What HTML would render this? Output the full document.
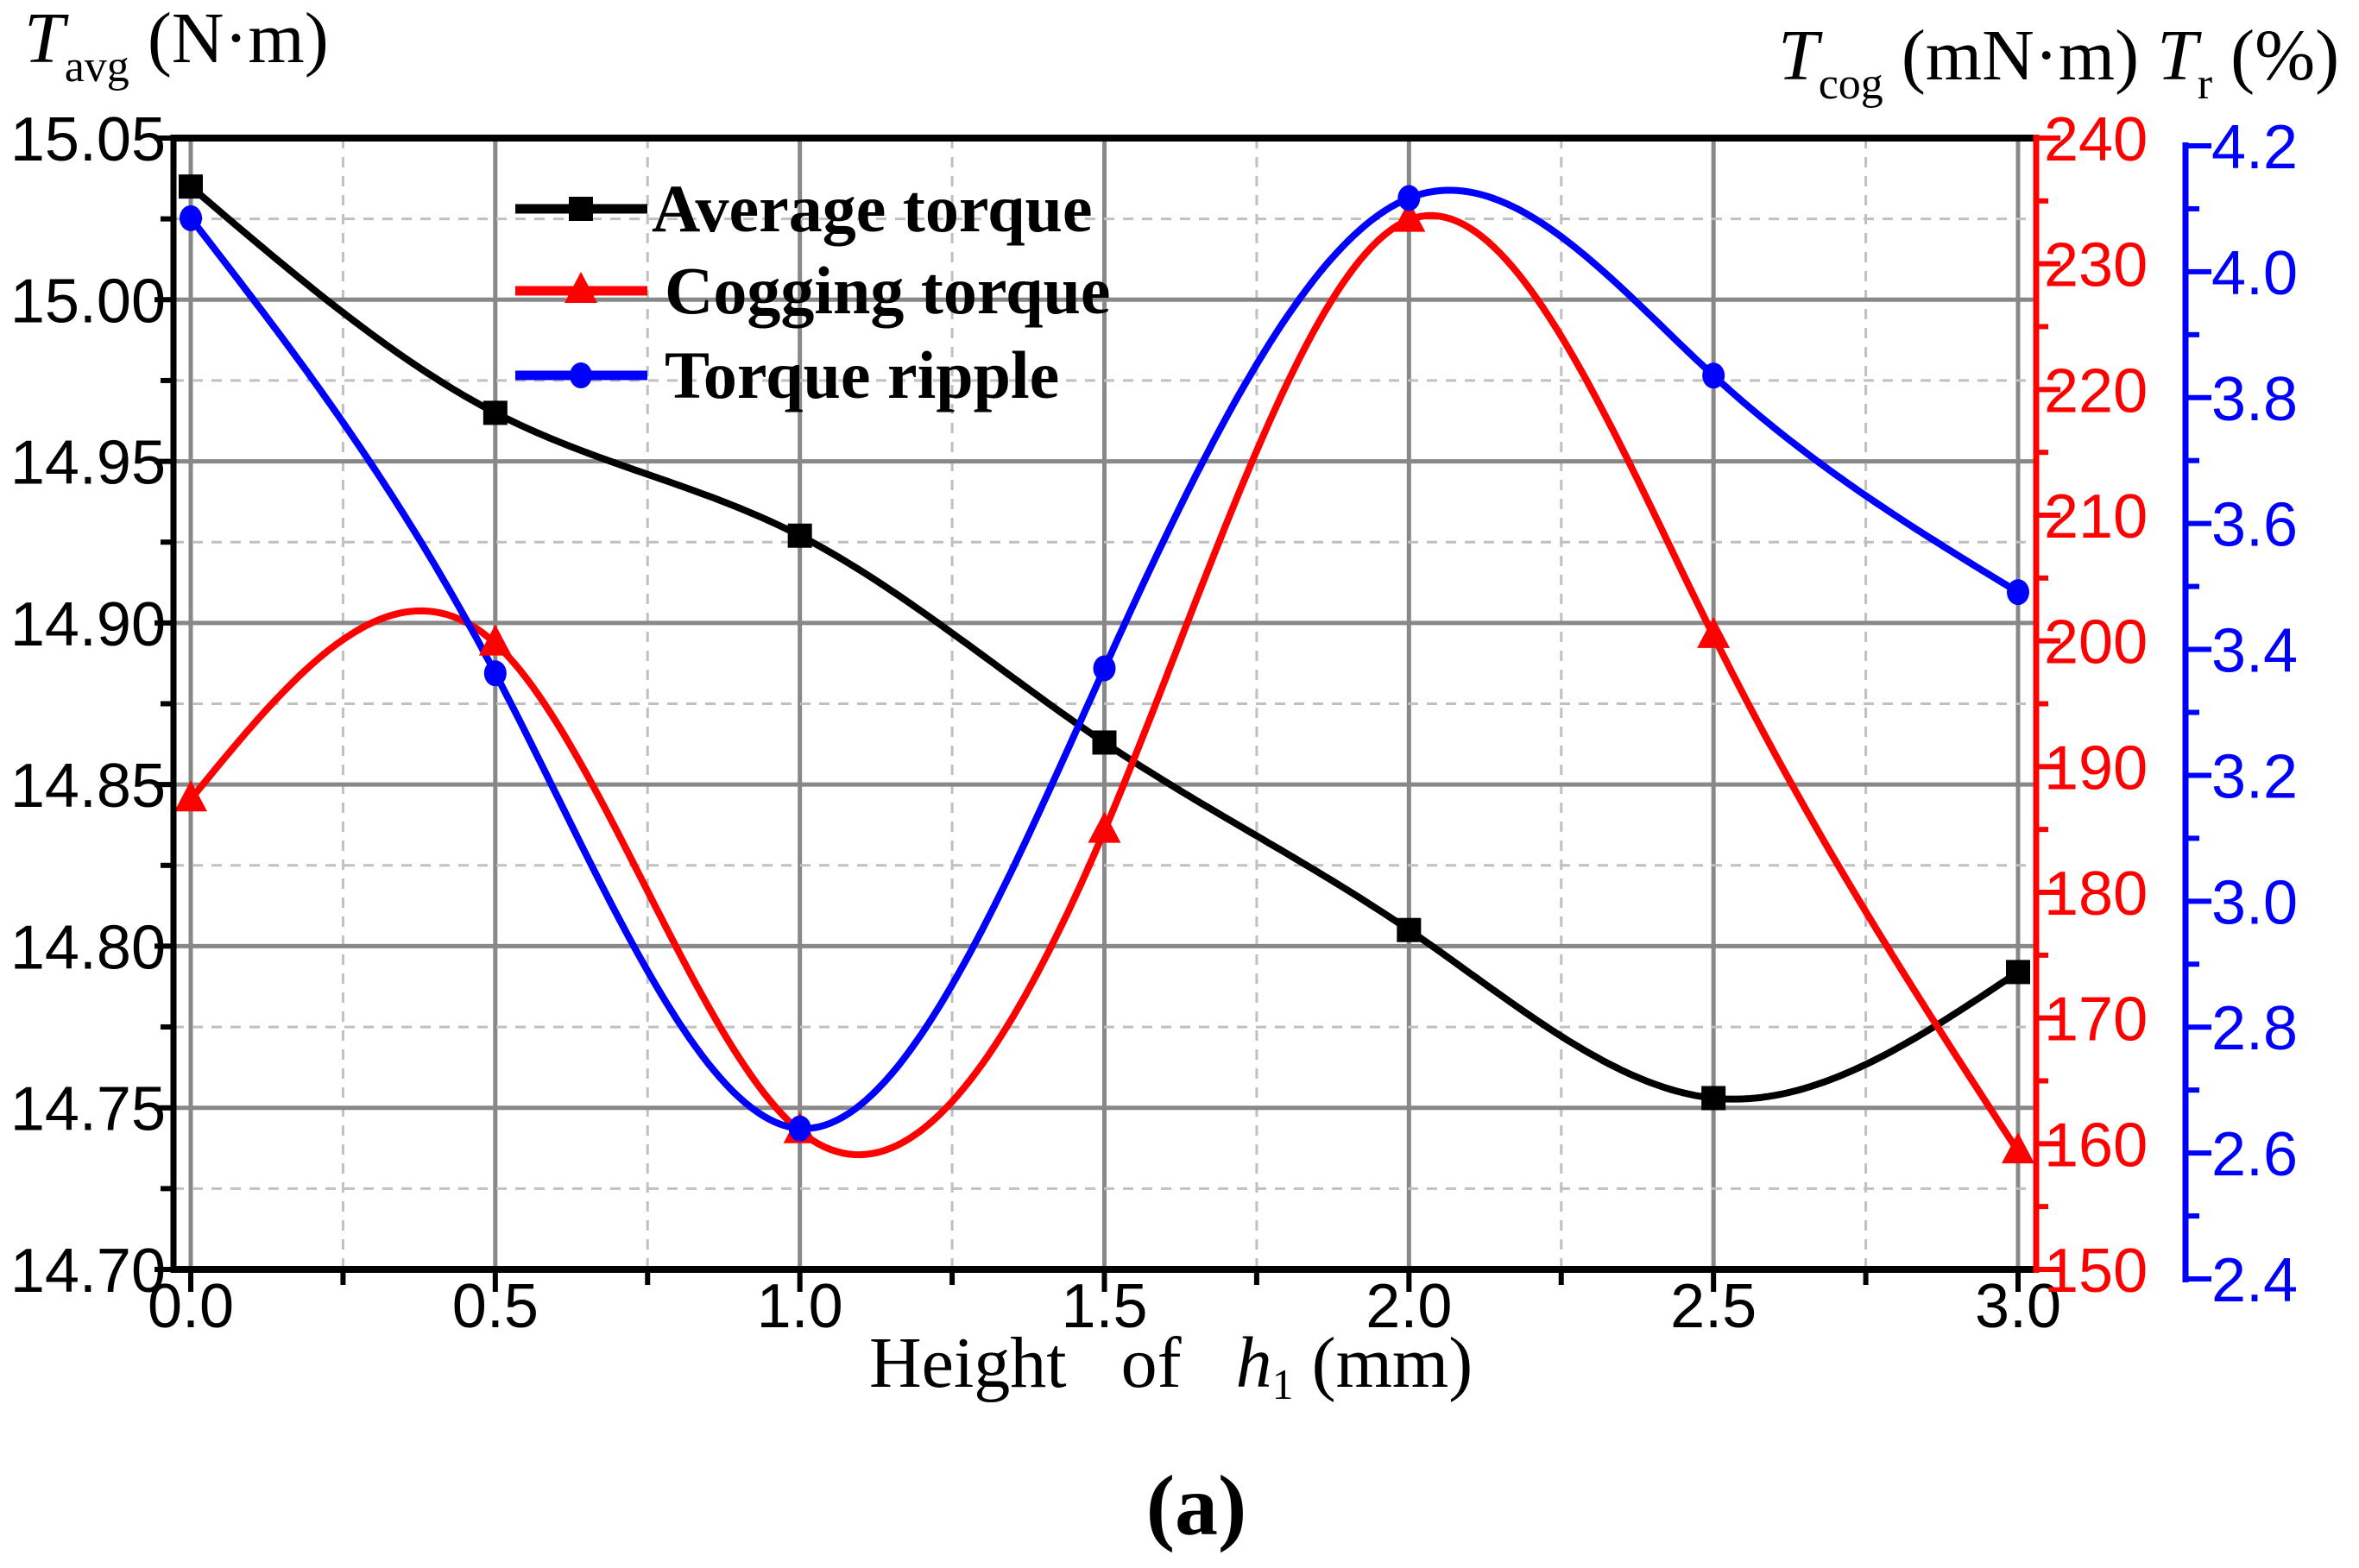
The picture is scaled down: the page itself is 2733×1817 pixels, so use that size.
<!DOCTYPE html>
<html><head><meta charset="utf-8"><style>
html,body{margin:0;padding:0;background:#fff;}
svg{display:block;}
</style></head><body>
<svg id="chart" width="2733" height="1817" viewBox="0 0 2733 1817" xmlns="http://www.w3.org/2000/svg"></svg>
<script>
const xValues = [0, 0.5, 1.0, 1.5, 2.0, 2.5, 3.0];
const avgTorque = [15.035, 14.965, 14.927, 14.863, 14.805, 14.753, 14.792];
const coggingTorque = [187.4, 199.8, 161.0, 184.9, 233.5, 200.4, 159.4];
const torqueRipple = [4.085, 3.362, 2.639, 3.37, 4.117, 3.835, 3.491];
const xTicks = ['0.0','0.5','1.0','1.5','2.0','2.5','3.0'];
const leftTicks = ['14.70','14.75','14.80','14.85','14.90','14.95','15.00','15.05'];
const redTicks = ['150','160','170','180','190','200','210','220','230','240'];
const blueTicks = ['2.4','2.6','2.8','3.0','3.2','3.4','3.6','3.8','4.0','4.2'];

const L=201, R=2359, T=160, B=1471;
const X = v => 221 + (v-0)*(2338-221)/3;
const YL = v => B - (v-14.70)*(B-T)/0.35;
const YR = v => B - (v-150)*(B-T)/90;
const BT=169, BB=1482, BX=2532;
const YB = v => BB - (v-2.4)*(BB-BT)/1.8;

const svg=document.getElementById('chart');
const NS='http://www.w3.org/2000/svg';
function mk(tag,attrs,parent){const e=document.createElementNS(NS,tag);for(const k in attrs)e.setAttribute(k,attrs[k]);(parent||svg).appendChild(e);return e;}

const grid=mk('g',{});


for(let i=0;i<=12;i++){const v=i*0.25;const x=X(v);
  mk('line',{x1:x,y1:T,x2:x,y2:B,stroke:i%2?'#c0c0c0':'#888',"stroke-width":i%2?3:5,"stroke-dasharray":i%2?'12,10':'none'},grid);}
for(let i=0;i<=14;i++){const v=14.70+i*0.025;const y=YL(v);
  mk('line',{x1:L,y1:y,x2:R,y2:y,stroke:i%2?'#c0c0c0':'#888',"stroke-width":i%2?3:5,"stroke-dasharray":i%2?'12,10':'none'},grid);}

function spline(xs,ys){const n=xs.length,h=[],a=[],l=[1],mu=[0],z=[0],c=new Array(n).fill(0),b=[],d=[];
 for(let i=0;i<n-1;i++)h[i]=xs[i+1]-xs[i];
 for(let i=1;i<n-1;i++)a[i]=3/h[i]*(ys[i+1]-ys[i])-3/h[i-1]*(ys[i]-ys[i-1]);
 for(let i=1;i<n-1;i++){l[i]=2*(xs[i+1]-xs[i-1])-h[i-1]*mu[i-1];mu[i]=h[i]/l[i];z[i]=(a[i]-h[i-1]*z[i-1])/l[i];}
 for(let j=n-2;j>=0;j--){c[j]=z[j]-mu[j]*c[j+1];b[j]=(ys[j+1]-ys[j])/h[j]-h[j]*(c[j+1]+2*c[j])/3;d[j]=(c[j+1]-c[j])/(3*h[j]);}
 return t=>{let j=xs.findIndex((v,k)=>k<n-1&&t<=xs[k+1]);if(j<0)j=n-2;const dx=t-xs[j];return ys[j]+b[j]*dx+c[j]*dx*dx+d[j]*dx*dx*dx;};
}
function curve(ys,Y,color,name){const f=spline(xValues,ys);let p='';
 for(let i=0;i<=300;i++){const t=3*i/300;p+=(i?'L':'M')+X(t).toFixed(1)+','+Y(f(t)).toFixed(1);}
 const e=mk('path',{d:p,fill:'none',stroke:color,"stroke-width":8,"stroke-linejoin":'round'});
 
 }
curve(avgTorque,YL,'#000','average-torque-line');
curve(coggingTorque,YR,'#f00','cogging-torque-line');
curve(torqueRipple,YB,'#00f','torque-ripple-line');

function square(x,y,c){return mk('rect',{x:x-14,y:y-14,width:28,height:28,fill:c});}
function tri(x,y,c){return mk('polygon',{points:`${x},${y-22} ${x-19},${y+14} ${x+19},${y+14}`,fill:c});}
function circ(x,y,c){return mk('ellipse',{cx:x,cy:y,rx:13,ry:15,fill:c});}
xValues.forEach((v,i)=>{
 let e=square(X(v),YL(avgTorque[i]),'#000');
 
 
 e=tri(X(v),YR(coggingTorque[i]),'#f00');
 
 
 e=circ(X(v),YB(torqueRipple[i]),'#00f');
 
 
});

mk('line',{x1:L,y1:T,x2:R,y2:T,stroke:'#000',"stroke-width":8});
mk('line',{x1:L,y1:B,x2:R,y2:B,stroke:'#000',"stroke-width":8});
mk('line',{x1:L,y1:T-4,x2:L,y2:B+4,stroke:'#000',"stroke-width":7});
mk('line',{x1:R,y1:T-4,x2:R,y2:B+4,stroke:'#f00',"stroke-width":7});
mk('line',{x1:BX,y1:BT-4,x2:BX,y2:BB+4,stroke:'#00f',"stroke-width":7});

const font='"Liberation Sans", Arial, sans-serif';
function txt(s,x,y,attrs,name){const e=mk('text',Object.assign({x:x,y:y,"font-family":font,"font-size":72},attrs));e.textContent=s;
 
 return e;}

for(let i=0;i<=12;i++){const x=X(i*0.25);mk('line',{x1:x,y1:B,x2:x,y2:B+(i%2?18:26),stroke:'#000',"stroke-width":6});}
xTicks.forEach((s,i)=>txt(s,X(i*0.5),1538,{"text-anchor":'middle'},'x-tick-label'));
leftTicks.forEach((s,i)=>{const y=YL(14.70+i*0.05);mk('line',{x1:L-22,y1:y,x2:L,y2:y,stroke:'#000',"stroke-width":6});
 txt(s,192,y+26,{"text-anchor":'end'},'left-tick-label');
 if(i<leftTicks.length-1){const ym=YL(14.725+i*0.05);mk('line',{x1:L-15,y1:ym,x2:L,y2:ym,stroke:'#000',"stroke-width":6});}});
redTicks.forEach((s,i)=>{const y=YR(150+i*10);mk('line',{x1:R,y1:y,x2:R+28,y2:y,stroke:'#f00',"stroke-width":6});
 txt(s,2368,y+26,{fill:'#f00'},'red-tick-label');
 if(i<redTicks.length-1){const ym=YR(155+i*10);mk('line',{x1:R,y1:ym,x2:R+14,y2:ym,stroke:'#f00',"stroke-width":6});}});
blueTicks.forEach((s,i)=>{const y=YB(2.4+i*0.2);mk('line',{x1:BX,y1:y,x2:BX+30,y2:y,stroke:'#00f',"stroke-width":6});
 txt(s,2562,y+26,{fill:'#00f'},'blue-tick-label');
 if(i<blueTicks.length-1){const ym=YB(2.5+i*0.2);mk('line',{x1:BX,y1:ym,x2:BX+16,y2:ym,stroke:'#00f',"stroke-width":6});}});

const lf='"Liberation Serif", "Times New Roman", serif';
const leg=[['Average torque','#000',square,242,755],['Cogging torque','#f00',tri,337,770],['Torque ripple','#00f',circ,435,770]];
leg.forEach(([s,c,m,y,tx])=>{mk('line',{x1:597,y1:y,x2:750,y2:y,stroke:c,"stroke-width":11});m(673,y,c);
 const e=mk('text',{x:tx,y:y+26,"font-family":lf,"font-size":78,"font-weight":'bold'});e.textContent=s;
 
 });

function rich(parts,x,y,name,anchor){const e=mk('text',{x:x,y:y,"font-family":lf,"font-size":84,"text-anchor":anchor||'start',"xml:space":'preserve'});
 e.setAttribute('style','white-space:pre');
 parts.forEach(p=>{const s=mk('tspan',p.a||{},e);s.textContent=p.t;});
 
 }
rich([{t:'T',a:{"font-style":'italic'}},{t:'avg',a:{"font-size":52,dy:22}},{t:' (N·m)',a:{dy:-22}}],28,72,'left-axis-title');
rich([{t:'T',a:{"font-style":'italic'}},{t:'cog',a:{"font-size":52,dy:22}},{t:' (mN·m) ',a:{dy:-22}},{t:'T',a:{"font-style":'italic'}},{t:'r',a:{"font-size":52,dy:22}},{t:' (%)',a:{dy:-22}}],2060,92,'right-axis-title');
rich([{t:'Height   of   '},{t:'h',a:{"font-style":'italic'}},{t:'1',a:{"font-size":50,dy:14}},{t:' (mm)',a:{dy:-14}}],1007,1607,'x-axis-title');
const cap=mk('text',{x:1386,y:1778,"font-family":lf,"font-size":100,"text-anchor":'middle',"font-weight":'bold'});cap.textContent='(a)';


</script>
</body></html>
